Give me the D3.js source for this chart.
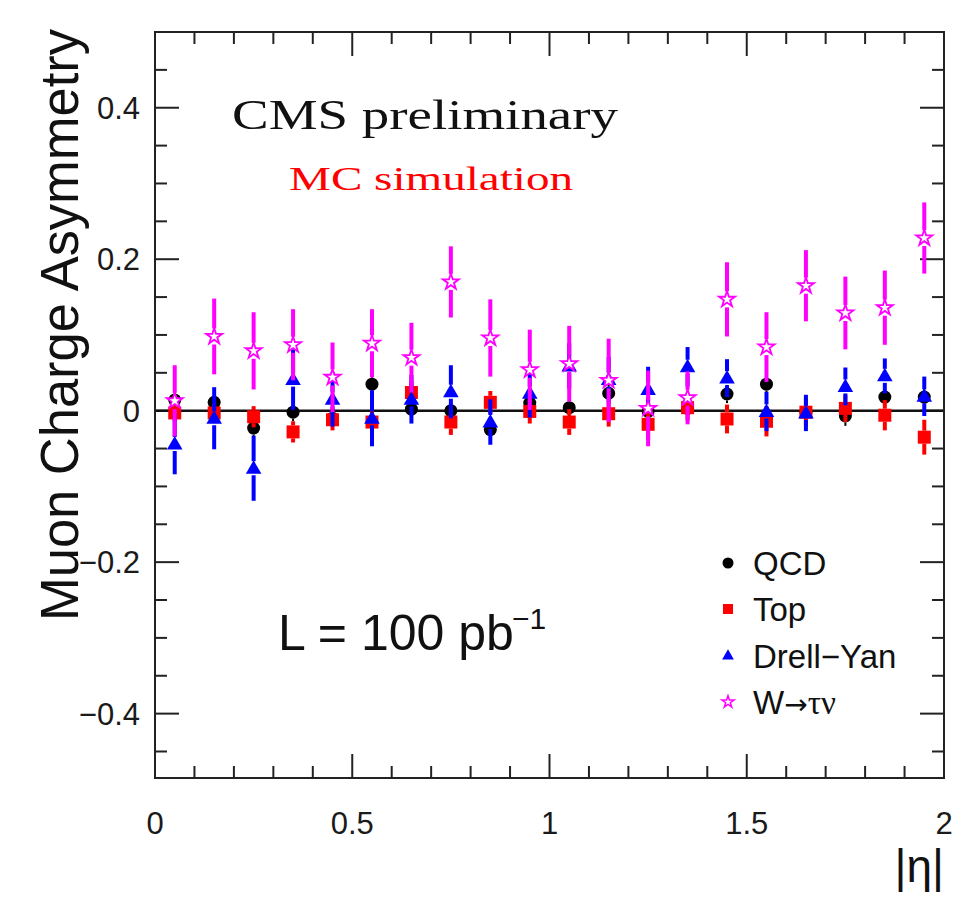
<!DOCTYPE html>
<html><head><meta charset="utf-8">
<script src="https://cdn.jsdelivr.net/npm/d3@7"></script>
<style>body{margin:0;background:#fff}svg{display:block}</style>
</head><body>
<svg id="c" width="971" height="897"></svg>
<script>
const eta = [0.05,0.15,0.25,0.35,0.45,0.55,0.65,0.75,0.85,0.95,1.05,1.15,1.25,1.35,1.45,1.55,1.65,1.75,1.85,1.95];
const qcd    = [0.014,0.011,-0.023,-0.002,-0.010,0.035,0.002,0.000,-0.025,0.010,0.004,0.023,-0.001,0.003,0.022,0.035,-0.002,-0.007,0.018,0.018];
const qcdErr = [0.012,0.012,0.012,0.012,0.012,0.012,0.014,0.012,0.012,0.012,0.012,0.012,0.012,0.012,0.012,0.012,0.012,0.013,0.012,0.012];
const top_    = [-0.003,-0.003,-0.008,-0.028,-0.012,-0.015,0.024,-0.015,0.011,-0.001,-0.015,-0.004,-0.018,0.004,-0.011,-0.014,-0.002,0.003,-0.006,-0.035];
const topErr = [0.012,0.013,0.014,0.014,0.014,0.015,0.015,0.017,0.015,0.016,0.017,0.017,0.020,0.017,0.019,0.020,0.018,0.018,0.020,0.023];
const dy     = [-0.044,-0.010,-0.076,0.041,0.015,-0.010,0.015,0.025,-0.015,0.023,0.059,0.041,0.028,0.058,0.043,-0.001,-0.003,0.032,0.046,0.019];
const dyErr  = [0.040,0.041,0.043,0.040,0.036,0.037,0.032,0.035,0.030,0.032,0.030,0.030,0.030,0.026,0.025,0.026,0.024,0.025,0.023,0.026];
const wtau   = [0.013,0.098,0.079,0.087,0.044,0.089,0.070,0.170,0.096,0.054,0.062,0.040,0.003,0.017,0.147,0.084,0.165,0.129,0.136,0.228];
const wtauErr= [0.047,0.050,0.051,0.047,0.046,0.045,0.046,0.047,0.051,0.053,0.050,0.055,0.050,0.035,0.049,0.046,0.047,0.048,0.049,0.047];
const yTickLabels = [-0.4,-0.2,0,0.2,0.4];
const xTickLabels = [0,0.5,1,1.5,2];
const legendNames = ["QCD","Top","Drell\u2212Yan","W\u2192\u03c4\u03bd"];

const svg = d3.select("#c");
const L=155,R=944,T=32,B=778;
const x = d3.scaleLinear().domain([0,2]).range([L,R]);
const y = d3.scaleLinear().domain([-0.485,0.5]).range([B,T]);
const SANS = "Liberation Sans, Arial, sans-serif";

// ticks
const g = svg.append("g");
const yMinor = d3.range(-0.45,0.5001,0.05).map(v=>+v.toFixed(2));
const xMinor = d3.range(0.1,2.0,0.1).map(v=>+v.toFixed(2));
function isMajY(v){return Math.abs(v*5-Math.round(v*5))<1e-6;}
function isMajX(v){return Math.abs(v*2-Math.round(v*2))<1e-6;}
yMinor.forEach(v=>{
  const len = isMajY(v)?24:12;
  g.append("line").attr("x1",L).attr("x2",L+len).attr("y1",y(v)).attr("y2",y(v)).attr("stroke","#222").attr("stroke-width",2);
  g.append("line").attr("x1",R).attr("x2",R-len).attr("y1",y(v)).attr("y2",y(v)).attr("stroke","#222").attr("stroke-width",2);
});
xMinor.forEach(v=>{
  const len = isMajX(v)?24:12;
  g.append("line").attr("x1",x(v)).attr("x2",x(v)).attr("y1",B).attr("y2",B-len).attr("stroke","#222").attr("stroke-width",2);
  g.append("line").attr("x1",x(v)).attr("x2",x(v)).attr("y1",T).attr("y2",T+len).attr("stroke","#222").attr("stroke-width",2);
});
// zero line
svg.append("line").attr("x1",x(0)).attr("x2",x(2)).attr("y1",y(0)).attr("y2",y(0)).attr("stroke","#111").attr("stroke-width",2.5);
// frame
svg.append("rect").attr("x",L).attr("y",T).attr("width",R-L).attr("height",B-T).attr("fill","none").attr("stroke","#222").attr("stroke-width",2);

// tick labels
const fmt = v => (v<0?"\u2212":"")+String(Math.abs(v));
svg.selectAll(".yl").data(yTickLabels).enter().append("text")
  .attr("x",140).attr("y",d=>y(d)).attr("dy","0.36em").attr("text-anchor","end")
  .attr("font-family",SANS).attr("font-size",31).attr("fill","#1a1a1a").text(fmt);
svg.selectAll(".xl").data(xTickLabels).enter().append("text")
  .attr("x",d=>x(d)).attr("y",834).attr("text-anchor","middle")
  .attr("font-family",SANS).attr("font-size",31).attr("fill","#1a1a1a").text(fmt);

// axis titles
svg.append("text").attr("transform","translate(78,621) rotate(-90)")
  .attr("font-family",SANS).attr("font-size",54)
  .attr("textLength",592).attr("lengthAdjust","spacingAndGlyphs").attr("fill","#111").text("Muon Charge Asymmetry");
svg.append("text").attr("x",R).attr("y",882).attr("text-anchor","end")
  .attr("font-family",SANS).attr("font-size",46).attr("fill","#111").text("|\u03b7|");

// annotations
svg.append("text").attr("x",232).attr("y",129).attr("font-family","Liberation Serif, Times New Roman, serif")
  .attr("font-size",42).attr("textLength",386).attr("lengthAdjust","spacingAndGlyphs").attr("fill","#111").text("CMS preliminary");
svg.append("text").attr("x",289).attr("y",190).attr("font-family","Liberation Serif, Times New Roman, serif")
  .attr("font-size",34).attr("textLength",284).attr("lengthAdjust","spacingAndGlyphs").attr("fill","#ff0000").text("MC simulation");
const lt = svg.append("text").attr("x",278).attr("y",650).attr("font-family",SANS)
  .attr("font-size",50).attr("fill","#111");
lt.append("tspan").text("L = 100 pb");
lt.append("tspan").attr("font-size",30).attr("dy",-21).attr("dx",-2).text("\u22121");

// series
const sym = {
  circle: d3.symbol(d3.symbolCircle, Math.PI*6.5*6.5),
  square: d3.symbol(d3.symbolSquare, 13*13),
  tri: d3.symbol(d3.symbolTriangle, 105),
  star: d3.symbol(d3.symbolStar, 80)
};
const series = [
  {vals:qcd, errs:qcdErr, color:"#000000", shape:"circle", half:6.5, ew:2, open:false},
  {vals:top_, errs:topErr, color:"#ff0000", shape:"square", half:6.5, ew:4, open:false},
  {vals:dy, errs:dyErr, color:"#0000ff", shape:"tri", half:7, ew:4, open:false},
  {vals:wtau, errs:wtauErr, color:"#ff00ff", shape:"star", half:8, ew:4, open:true}
];
series.forEach(s=>{
  const sg = svg.append("g");
  const data = eta.map((e,i)=>({e, v:s.vals[i], err:s.errs[i]}));
  data.forEach(d=>{
    const cx=x(d.e), cy=y(d.v), yt=y(d.v+d.err), yb=y(d.v-d.err);
    if (cy - s.half > yt) sg.append("line").attr("x1",cx).attr("x2",cx).attr("y1",yt).attr("y2",cy-s.half).attr("stroke",s.color).attr("stroke-width",s.ew);
    if (yb > cy + s.half) sg.append("line").attr("x1",cx).attr("x2",cx).attr("y1",cy+s.half).attr("y2",yb).attr("stroke",s.color).attr("stroke-width",s.ew);
  });
  sg.selectAll("path").data(data).enter().append("path")
    .attr("d", sym[s.shape])
    .attr("transform", d=>`translate(${x(d.e)},${y(d.v)+(s.shape==="tri"?1:0)})`)
    .attr("fill", s.open?"#fff":s.color)
    .attr("stroke", s.open?s.color:"none").attr("stroke-width",1.8);
});

// legend
const legSym = [
  d3.symbol(d3.symbolCircle, Math.PI*5.5*5.5),
  d3.symbol(d3.symbolSquare, 10*10),
  d3.symbol(d3.symbolTriangle, 60),
  d3.symbol(d3.symbolStar, 45)
];
const legY = [563,609,656,702];
legendNames.forEach((n,i)=>{
  const s = series[i];
  svg.append("path").attr("d",legSym[i]).attr("transform",`translate(728,${legY[i]})`)
    .attr("fill", s.open?"#fff":s.color).attr("stroke", s.open?s.color:"none").attr("stroke-width",1.5);
  const t = svg.append("text").attr("x",753).attr("y",legY[i]).attr("dy","0.36em")
    .attr("font-family",SANS).attr("font-size",33).attr("fill","#111");
  if (i===3) {
    t.append("tspan").text("W");
    t.append("tspan").attr("font-family","DejaVu Sans, sans-serif").attr("font-size",28).text("\u2192");
    t.append("tspan").attr("font-family","Liberation Serif, serif").text("\u03c4\u03bd");
  } else t.text(n);
});
</script>
</body></html>
